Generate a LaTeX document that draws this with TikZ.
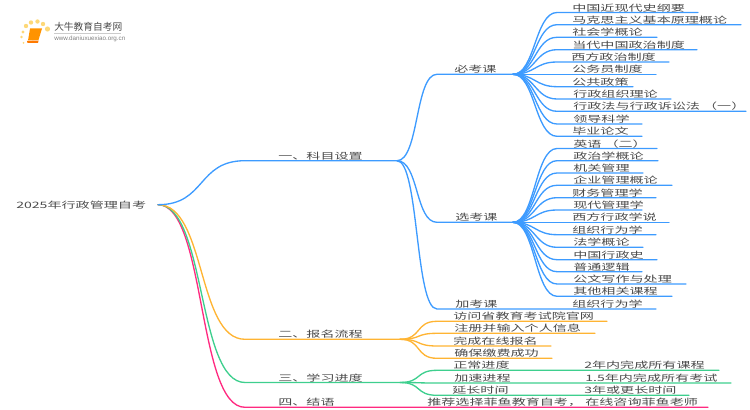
\documentclass[tikz,border=0pt]{standalone}
\usepackage{fontspec}
\setmainfont{Liberation Sans}
\newfontfamily\cjk[FakeStretch=1.6]{Noto Sans CJK SC}
\newfontfamily\cjklogo{Noto Sans CJK SC}
\definecolor{cblue}{HTML}{3D9BFF}
\definecolor{corange}{HTML}{FFB433}
\definecolor{cgreen}{HTML}{3ECF8E}
\definecolor{cpink}{HTML}{FF2A80}
\definecolor{ctext}{HTML}{4A4A4A}
\definecolor{cdot}{HTML}{FDD878}
\tikzset{
  label text/.style={anchor=west,inner sep=0pt,text=ctext,font=\cjk\fontsize{6.6}{8}\selectfont},
  conn/.style={line width=1pt,line cap=round},
}
% name, hub, y, text x, end x, colour, text
\newcommand{\leafitem}[7]{%
  \coordinate (#1-s) at (\sx,#3);
  \coordinate (#1-e) at (#5,#3);
  \draw[conn,#6] (#2) .. controls +(\ctl,0) and +(-\ctl,0) .. (#1-s) -- (#1-e);
  \node[label text] (#1) at (#4,#3-4.7) {#7};
}
\begin{document}
\begin{tikzpicture}[x=0.75pt,y=-0.75pt]
\useasboundingbox (0,0) rectangle (750,410);
% logo
\fill[cdot] (23,32) circle (1.6) (26,26) circle (2.2) (31,22.5) circle (2.2) (37.5,21.5) circle (2.2) (43,24) circle (2.2) (47.5,29) circle (2.6) (21.5,37) circle (1.4) (23.5,43) circle (1);
\fill[orange!85!yellow] (30,28.5) -- (42,28.5) -- (38.5,40) -- (28,40.5) -- cycle;
\fill[orange!95!red] (27,41) -- (38.5,40.5) -- (38,43) -- (27.5,43) -- cycle;
\node[inner sep=0pt,anchor=west,text=ctext,font=\cjklogo\fontsize{7.3}{9}\selectfont] (logotitle) at (54,27) {大牛教育自考网};
\node[inner sep=0pt,anchor=west,text=gray,font=\fontsize{4.7}{6}\selectfont] (logourl) at (54,38.7) {www.daniuxuexiao.org.cn};
\draw[black!20,line width=0.4pt] (54,33) -- (121,33);
% root
\node[label text] (root) at (16,205) {2025年行政管理自考};
\coordinate (root-e) at (158,204.7);
% level 1
\def\sx{245}\def\ctl{48}
\leafitem{b4}{root-e}{407.3}{278}{708}{cpink}{四、结语}
\leafitem{b3}{root-e}{382.5}{278}{400}{cgreen}{三、学习进度}
\leafitem{b2}{root-e}{339.3}{278}{400}{corange}{二、报名流程}
\leafitem{b1}{root-e}{160.7}{278}{397}{cblue}{一、科目设置}
\node[label text] (b4t) at (427,402.6) {推荐选择菲鱼教育自考， 在线咨询菲鱼老师};
% level 2
\def\sx{437}\def\ctl{22}
\leafitem{c1}{b1-e}{74.3}{454}{513}{cblue}{必考课}
\leafitem{c2}{b1-e}{222.3}{455}{513}{cblue}{选考课}
\leafitem{c3}{b1-e}{309}{455}{656}{cblue}{加考课}
\node[label text] (c3t) at (572,304.3) {组织行为学};
\leafitem{o1}{b2-e}{321.3}{453}{607}{corange}{访问省教育考试院官网}
\leafitem{o2}{b2-e}{333.3}{454}{595}{corange}{注册并输入个人信息}
\leafitem{o3}{b2-e}{346}{453}{551}{corange}{完成在线报名}
\leafitem{o4}{b2-e}{358.3}{454}{552}{corange}{确保缴费成功}
\leafitem{g1}{b3-e}{370.3}{453}{719}{cgreen}{正常进度}
\leafitem{g2}{b3-e}{383}{454}{731}{cgreen}{加速进程}
\leafitem{g3}{b3-e}{395.3}{452}{689}{cgreen}{延长时间}
\node[label text] (g1t) at (584,365.6) {2年内完成所有课程};
\node[label text] (g2t) at (585,378.3) {1.5年内完成所有考试};
\node[label text] (g3t) at (584,390.6) {3年或更长时间};
% level 3
\def\sx{557}\def\ctl{22}
\leafitem{a1}{c1-e}{12.5}{572}{698}{cblue}{中国近现代史纲要}
\leafitem{a2}{c1-e}{24.7}{572}{741}{cblue}{马克思主义基本原理概论}
\leafitem{a3}{c1-e}{37.3}{572}{657}{cblue}{社会学概论}
\leafitem{a4}{c1-e}{49.7}{572}{697}{cblue}{当代中国政治制度}
\leafitem{a5}{c1-e}{62}{571}{669}{cblue}{西方政治制度}
\leafitem{a6}{c1-e}{74.3}{572}{656}{cblue}{公务员制度}
\leafitem{a7}{c1-e}{86.7}{572}{633}{cblue}{公共政策}
\leafitem{a8}{c1-e}{99}{573}{671}{cblue}{行政组织理论}
\leafitem{a9}{c1-e}{111.3}{573}{746}{cblue}{行政法与行政诉讼法 （一）}
\leafitem{a10}{c1-e}{124}{573}{642}{cblue}{领导科学}
\leafitem{a11}{c1-e}{136.3}{572}{642}{cblue}{毕业论文}
\leafitem{e1}{c2-e}{148.5}{573}{657}{cblue}{英语 （二）}
\leafitem{e2}{c2-e}{160.7}{573}{658}{cblue}{政治学概论}
\leafitem{e3}{c2-e}{173}{573}{643}{cblue}{机关管理}
\leafitem{e4}{c2-e}{185.3}{573}{672}{cblue}{企业管理概论}
\leafitem{e5}{c2-e}{197.7}{572}{656}{cblue}{财务管理学}
\leafitem{e6}{c2-e}{210}{573}{642}{cblue}{现代管理学}
\leafitem{e7}{c2-e}{222.3}{572}{669}{cblue}{西方行政学说}
\leafitem{e8}{c2-e}{234.7}{572}{656}{cblue}{组织行为学}
\leafitem{e9}{c2-e}{247.3}{573}{643}{cblue}{法学概论}
\leafitem{e10}{c2-e}{259.7}{573}{657}{cblue}{中国行政史}
\leafitem{e11}{c2-e}{271.7}{573}{642}{cblue}{普通逻辑}
\leafitem{e12}{c2-e}{284}{573}{686}{cblue}{公文写作与处理}
\leafitem{e13}{c2-e}{296.3}{573}{672}{cblue}{其他相关课程}
\end{tikzpicture}
\end{document}
